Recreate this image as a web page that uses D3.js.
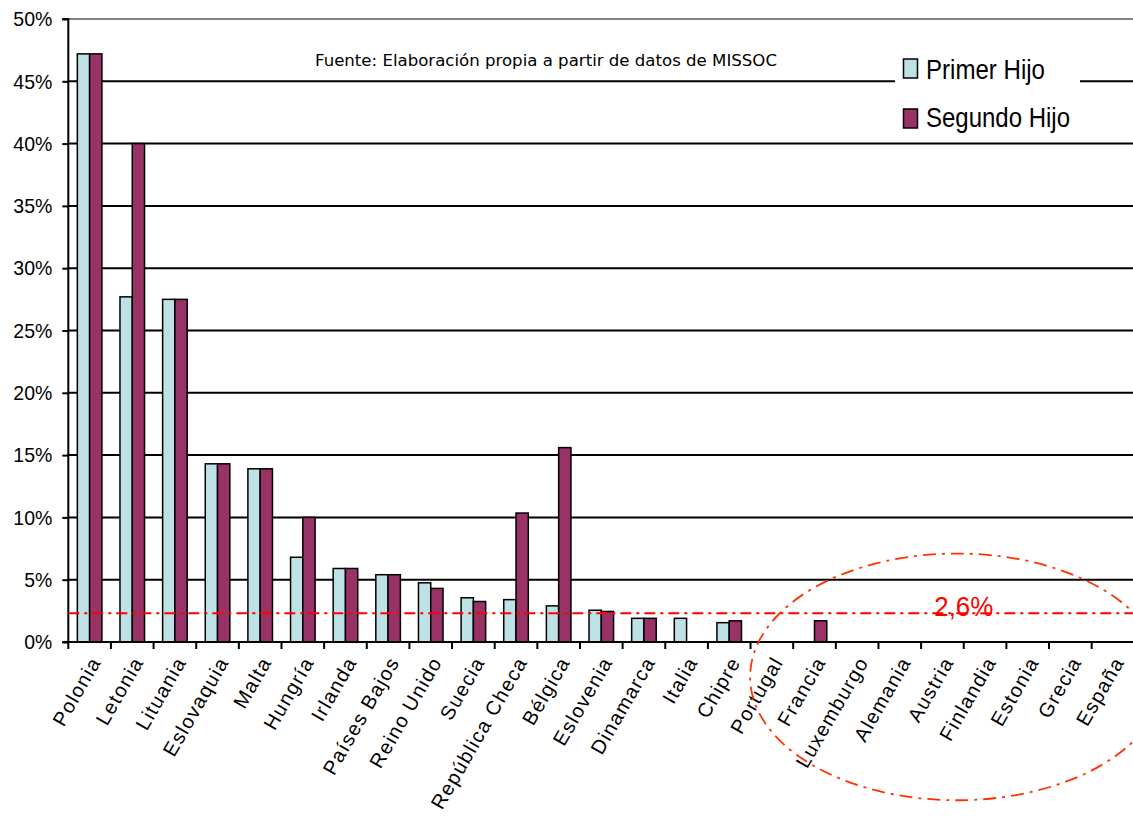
<!DOCTYPE html>
<html>
<head>
<meta charset="utf-8">
<script src="https://cdn.jsdelivr.net/npm/d3@7"></script>
<style>
  html, body { margin: 0; padding: 0; background: #fff; }
  svg { display: block; }
</style>
</head>
<body>
<svg id="chart" width="1133" height="822"></svg>
<script>
// ---- data ----
const categories = ["Polonia","Letonia","Lituania","Eslovaquia","Malta","Hungría","Irlanda","Países Bajos","Reino Unido","Suecia","República Checa","Bélgica","Eslovenia","Dinamarca","Italia","Chipre","Portugal","Francia","Luxemburgo","Alemania","Austria","Finlandia","Estonia","Grecia","España"];
const primerHijo  = [47.2, 27.7, 27.5, 14.3, 13.9, 6.8, 5.9, 5.4, 4.75, 3.55, 3.4, 2.9, 2.55, 1.9, 1.9, 1.55, 0, 0, 0, 0, 0, 0, 0, 0, 0];
const segundoHijo = [47.2, 40.0, 27.5, 14.3, 13.9, 10.0, 5.9, 5.4, 4.3, 3.25, 10.35, 15.6, 2.45, 1.9, 0, 1.7, 0, 1.7, 0, 0, 0, 0, 0, 0, 0];
const seriesNames = ["Primer Hijo", "Segundo Hijo"];
const yTicks = [0, 5, 10, 15, 20, 25, 30, 35, 40, 45, 50];
const referenceValue = 2.3;
const referenceLabel = "2,6%";
const sourceText = "Fuente: Elaboración propia a partir de datos de MISSOC";

// ---- layout ----
const colors = ["#bde1e4", "#993366"];
const svg = d3.select("#chart");
const x = d3.scaleBand().domain(categories).range([68.3, 1134.3]).padding(0);
const y = d3.scaleLinear().domain([0, 50]).range([642, 19]);
const step = x.bandwidth();
const barW = step * 0.288;

// gridlines
svg.append("g").selectAll("line").data(yTicks.filter(d => d > 0)).join("line")
  .attr("x1", x.range()[0]).attr("x2", x.range()[1])
  .attr("y1", d => y(d)).attr("y2", d => y(d))
  .attr("stroke", d => d === 50 ? "#808080" : "#000").attr("stroke-width", 2);

// y axis
const yAxis = d3.axisLeft(y).tickValues(yTicks).tickFormat(d => d + "%").tickSize(6).tickPadding(10);
const gy = svg.append("g").attr("transform", `translate(${x.range()[0]},0)`).call(yAxis);
gy.select(".domain").attr("stroke", "#000").attr("stroke-width", 2).attr("d", `M-6,${y(50)}H0V${y(0)}H-6`);
gy.selectAll(".tick line").attr("stroke", "#000").attr("stroke-width", 2);
gy.selectAll(".tick text").attr("font-family", "Liberation Sans, Arial, sans-serif").attr("font-size", 21)
  .attr("textLength", 39).attr("lengthAdjust", "spacingAndGlyphs").attr("fill", "#000");
gy.selectAll(".tick text").filter(d => d < 10).attr("textLength", 28);

// legend box
svg.append("rect").attr("x", 895).attr("y", 42).attr("width", 185).attr("height", 96).attr("fill", "#fff");

// source text
svg.append("text").attr("x", 315).attr("y", 66).attr("font-family", "DejaVu Sans, Verdana, sans-serif")
  .attr("font-size", 15).attr("textLength", 462).attr("lengthAdjust", "spacingAndGlyphs").attr("fill", "#000").text(sourceText);

// bars
const series = [primerHijo, segundoHijo];
series.forEach((vals, si) => {
  svg.append("g").selectAll("rect").data(categories.map((c, i) => ({c, v: vals[i]})).filter(d => d.v > 0)).join("rect")
    .attr("x", d => x(d.c) + step / 2 - barW + si * barW)
    .attr("y", d => y(d.v))
    .attr("width", barW)
    .attr("height", d => y(0) - y(d.v))
    .attr("fill", colors[si]).attr("stroke", "#000").attr("stroke-width", 1.5);
});

// x axis
const gx = svg.append("g");
gx.append("line").attr("x1", x.range()[0]).attr("x2", x.range()[1]).attr("y1", y(0)).attr("y2", y(0)).attr("stroke", "#000").attr("stroke-width", 2);
gx.selectAll("line.tk").data(categories).join("line").attr("class", "tk")
  .attr("x1", d => x(d)).attr("x2", d => x(d)).attr("y1", y(0)).attr("y2", y(0) + 7).attr("stroke", "#000").attr("stroke-width", 2);
gx.selectAll("text").data(categories).join("text")
  .attr("transform", d => `translate(${x(d) + step / 2 + 12},${y(0) + 20}) rotate(-60)`)
  .attr("text-anchor", "end")
  .attr("font-family", "Liberation Sans, Arial, sans-serif").attr("font-size", 20).attr("letter-spacing", 1.3)
  .attr("fill", "#000").text(d => d);

// reference line
svg.append("line").attr("x1", x.range()[0]).attr("x2", x.range()[1])
  .attr("y1", y(referenceValue)).attr("y2", y(referenceValue))
  .attr("stroke", "#ff0000").attr("stroke-width", 2).attr("stroke-dasharray", "11,5,3,5");
svg.append("text").attr("x", x("Austria") + step * 1.0).attr("y", y(referenceValue) + 3)
  .attr("text-anchor", "middle").attr("font-family", "Liberation Sans, Arial, sans-serif").attr("font-size", 28)
  .attr("textLength", 59).attr("lengthAdjust", "spacingAndGlyphs").attr("fill", "#ff0000").text(referenceLabel);

// ellipse annotation
svg.append("ellipse").attr("cx", x("Austria") + step * 0.84).attr("cy", y(-2.8))
  .attr("rx", step * 4.85).attr("ry", y(0) - y(9.9))
  .attr("fill", "none").attr("stroke", "#ff3300").attr("stroke-width", 1.8).attr("stroke-dasharray", "13,6,3,6");

// legend
const lg = svg.append("g");
seriesNames.forEach((name, i) => {
  lg.append("rect").attr("x", 903.5).attr("y", 59 + i * 50).attr("width", 14).attr("height", 19)
    .attr("fill", colors[i]).attr("stroke", "#000").attr("stroke-width", 1.5);
  lg.append("text").attr("x", 926).attr("y", 79 + i * 48).attr("font-family", "Liberation Sans, Arial, sans-serif")
    .attr("font-size", 28).attr("textLength", i === 0 ? 119 : 144).attr("lengthAdjust", "spacingAndGlyphs")
    .attr("fill", "#000").text(name);
});
</script>
</body>
</html>
